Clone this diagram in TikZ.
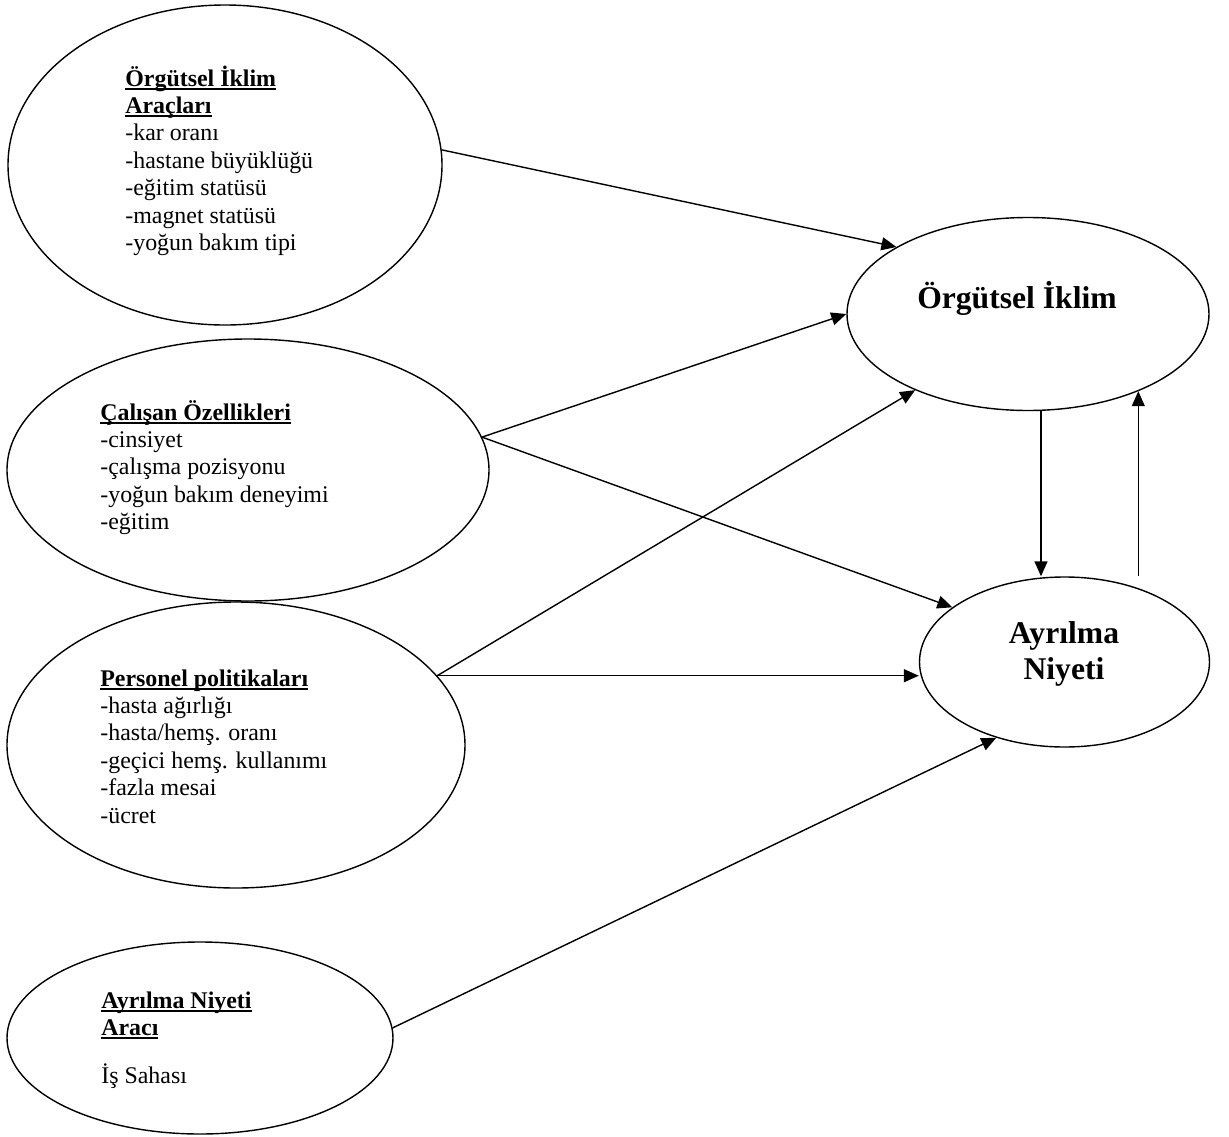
\documentclass[tikz,border=0pt]{standalone}
\usepackage{fontspec}
\setmainfont{Liberation Serif}
\usetikzlibrary{shapes.geometric,arrows.meta}
\newsavebox\ulbox
\newcommand{\ulin}[1]{\sbox\ulbox{#1}\rlap{\rule[-2pt]{\wd\ulbox}{0.9pt}}\usebox\ulbox}
\begin{document}
\begin{tikzpicture}[
    oval/.style={draw, ellipse, line width=0.8pt, inner sep=0pt},
    small/.style={font=\fontsize{13.6}{15.6}\selectfont, inner sep=0pt},
    big/.style={font=\fontsize{18}{21}\selectfont\bfseries, inner sep=0pt},
    okx/.style={-{Triangle[length=0.3cm,width=0.26cm]}, line width=0.8pt}
  ]
  \useasboundingbox (0,0) rectangle (24.58,-22.74);
  \draw
    (4.5,-3.3) node[oval, minimum width=8.68cm, minimum height=6.4cm] (araclar){}
    (4.96,-9.4) node[oval, minimum width=9.64cm, minimum height=5.24cm] (calisan){}
    (4.72,-14.9) node[oval, minimum width=9.16cm, minimum height=5.72cm] (personel){}
    (4.0,-20.76) node[oval, minimum width=7.72cm, minimum height=3.84cm] (niyetarac){}
    (20.56,-6.28) node[oval, minimum width=7.24cm, minimum height=3.86cm] (iklim){}
    (21.29,-13.24) node[oval, minimum width=5.8cm, minimum height=3.4cm] (niyet){};
  \coordinate (dn) at (20.82,0);
  \node[small, anchor=base west] (araclartxt) at (2.5,-1.72) {\begin{tabular}[t]{@{}l@{}}
    \ulin{\textbf{Örgütsel İklim}}\\ \ulin{\textbf{Araçları}}\\ -kar oranı\\ -hastane büyüklüğü\\
    -eğitim statüsü\\ -magnet statüsü\\ -yoğun bakım tipi\end{tabular}};
  \node[small, anchor=base west] (calisantxt) at (2.0,-8.4) {\begin{tabular}[t]{@{}l@{}}
    \ulin{\textbf{Çalışan Özellikleri}}\\ -cinsiyet\\ -çalışma pozisyonu\\ -yoğun bakım deneyimi\\
    -eğitim\end{tabular}};
  \node[small, anchor=base west] (personeltxt) at (2.0,-13.72) {\begin{tabular}[t]{@{}l@{}}
    \ulin{\textbf{Personel politikaları}}\\ -hasta ağırlığı\\ -hasta/hemş. oranı\\
    -geçici hemş. kullanımı\\ -fazla mesai\\ -ücret\end{tabular}};
  \node[small, anchor=base west] (niyetaractxt) at (2.02,-20.16) {\begin{tabular}[t]{@{}l@{}}
    \ulin{\textbf{Ayrılma Niyeti}}\\ \ulin{\textbf{Aracı}}\\[0.41cm] İş Sahası\end{tabular}};
  \node[big, anchor=base] (iklimtxt) at (20.34,-6.16) {Örgütsel İklim};
  \node[big, anchor=base] (niyettxt) at (21.28,-12.86) {\begin{tabular}[t]{@{}c@{}}Ayrılma\\ Niyeti\end{tabular}};
  \begin{scope}[okx]
    \draw (araclar.4) to (iklim.153);
    \draw (calisan.8) to (iklim.west);
    \draw (calisan.8) to (niyet.154);
    \draw (personel.19) to (iklim.214);
    \draw (personel.19) to (personel.19 -| niyet.west);
    \draw (niyetarac.3) to (niyet.228);
    \draw (iklim.south -| dn) to (niyet.north -| dn);
    \draw (iklim.-35 |- niyet.north) to (iklim.-35);
  \end{scope}
\end{tikzpicture}
\end{document}
